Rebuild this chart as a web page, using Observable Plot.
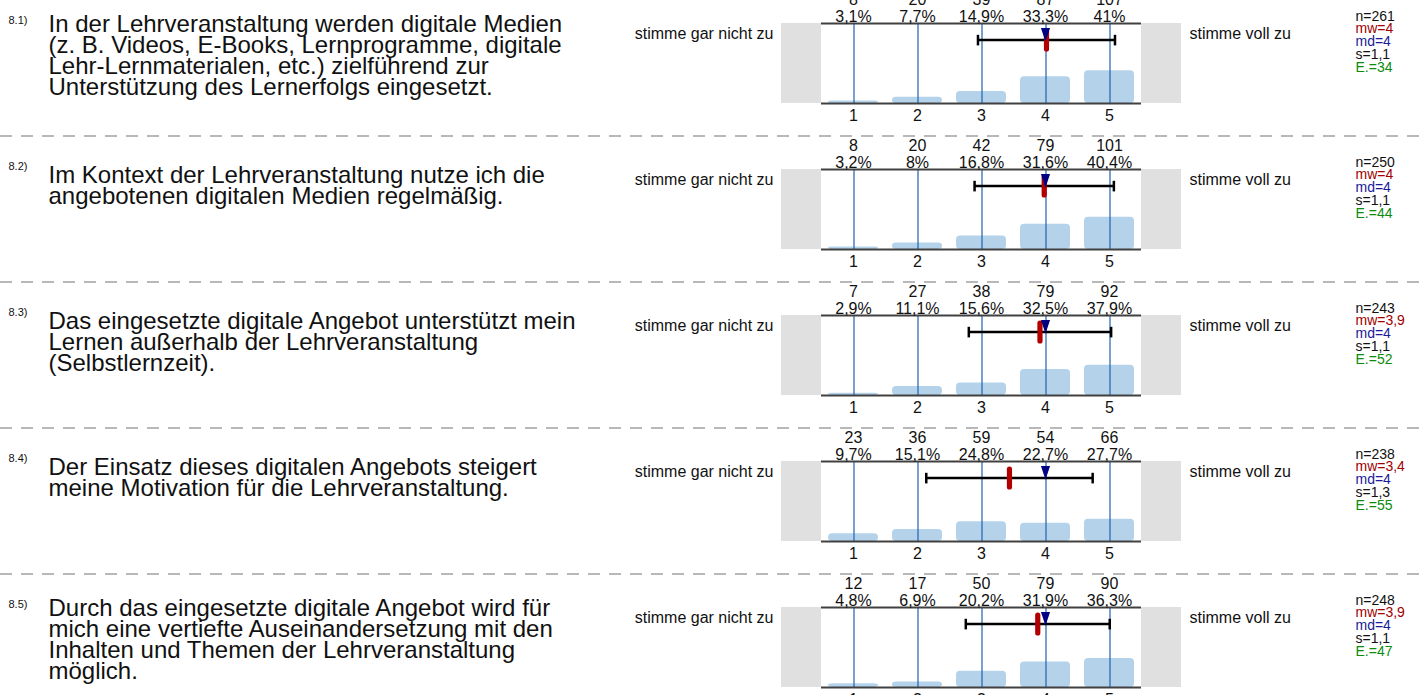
<!DOCTYPE html>
<html><head><meta charset="utf-8">
<script src="https://cdn.jsdelivr.net/npm/d3@7"></script>
<script src="https://cdn.jsdelivr.net/npm/@observablehq/plot@0.6"></script>
<style>html,body{margin:0;padding:0;background:#fff;overflow:hidden}</style>
</head><body><div id="chart"></div>
<script>
// ---- data ----
const ids = ["8.1)", "8.2)", "8.3)", "8.4)", "8.5)"];
const questions = [
  "In der Lehrveranstaltung werden digitale Medien\n(z. B. Videos, E-Books, Lernprogramme, digitale\nLehr-Lernmaterialen, etc.) zielführend zur\nUnterstützung des Lernerfolgs eingesetzt.",
  "Im Kontext der Lehrveranstaltung nutze ich die\nangebotenen digitalen Medien regelmäßig.",
  "Das eingesetzte digitale Angebot unterstützt mein\nLernen außerhalb der Lehrveranstaltung\n(Selbstlernzeit).",
  "Der Einsatz dieses digitalen Angebots steigert\nmeine Motivation für die Lehrveranstaltung.",
  "Durch das eingesetzte digitale Angebot wird für\nmich eine vertiefte Auseinandersetzung mit den\nInhalten und Themen der Lehrveranstaltung\nmöglich."
];
const scaleValues = [1, 2, 3, 4, 5];
const tickLabels = ["1", "2", "3", "4", "5"];
const leftLabel = "stimme gar nicht zu";
const rightLabel = "stimme voll zu";
const counts = [
  [8, 20, 39, 87, 107],
  [8, 20, 42, 79, 101],
  [7, 27, 38, 79, 92],
  [23, 36, 59, 54, 66],
  [12, 17, 50, 79, 90]
];
const percents = [
  [3.1, 7.7, 14.9, 33.3, 41],
  [3.2, 8, 16.8, 31.6, 40.4],
  [2.9, 11.1, 15.6, 32.5, 37.9],
  [9.7, 15.1, 24.8, 22.7, 27.7],
  [4.8, 6.9, 20.2, 31.9, 36.3]
];
const nValues = [261, 250, 243, 238, 248];
const mwLabels = ["4", "4", "3,9", "3,4", "3,9"];
const mdValues = [4, 4, 4, 4, 4];
const sLabels = ["1,1", "1,1", "1,1", "1,3", "1,1"];
const eValues = [34, 44, 52, 55, 47];

// ---- derived tables ----
const rows = ids.map((id, i) => {
  const c = counts[i];
  const n = d3.sum(c);
  const mean = d3.sum(c, (k, j) => k * scaleValues[j]) / n;
  const ss = d3.sum(c, (k, j) => k * (scaleValues[j] - mean) ** 2);
  const sd = Math.sqrt(ss / (n - 1));
  return {id, question: questions[i], lines: questions[i].split("\n").length, n: nValues[i], mean, sd,
    md: mdValues[i], mw: mwLabels[i], s: sLabels[i], e: eValues[i]};
});
const fmtPct = p => String(p).replace(".", ",") + "%";
const cells = ids.flatMap((id, i) => scaleValues.map((v, j) => ({
  id, v, count: counts[i][j], pct: percents[i][j], pctLabel: fmtPct(percents[i][j]), tick: tickLabels[j]
})));
const boxLines = ids.flatMap(id => [{id, y: 0}, {id, y: 100}]);
const errEnds = rows.flatMap(r => [{id: r.id, x: r.mean - r.sd}, {id: r.id, x: r.mean + r.sd}]);

// ---- layout / style ----
const W = 1420, H = 695;
const L = 821, R = 279;
const FONT = "'Liberation Sans', Arial, Helvetica, sans-serif";

const capSym = {draw(ctx, size) { const r = Math.sqrt(size / Math.PI); ctx.moveTo(0, -r); ctx.lineTo(0, r); }};
const meanSym = {draw(ctx, size) {
  const h = Math.sqrt(size / Math.PI), w = 2.6;
  ctx.moveTo(-w, -h + w); ctx.arc(0, -h + w, w, Math.PI, 0); ctx.lineTo(w, h - w);
  ctx.arc(0, h - w, w, 0, Math.PI); ctx.closePath();
}};
const triSym = {draw(ctx, size) {
  const r = Math.sqrt(size / Math.PI), w = r * 0.66;
  ctx.moveTo(-w, -r); ctx.lineTo(w, -r); ctx.lineTo(0, r); ctx.closePath();
}};

const statLines = [
  {key: r => "n=" + r.n, fill: "#111"},
  {key: r => "mw=" + r.mw, fill: "#a00000"},
  {key: r => "md=" + r.md, fill: "#1a1a9a"},
  {key: r => "s=" + r.s, fill: "#111"},
  {key: r => "E.=" + r.e, fill: "#0b8c0b"}
];

const questionText = (filter, dy) => Plot.text(rows, {filter, fy: "id", frameAnchor: "left", dx: 48 - L, y: 100,
  dy, text: "question", textAnchor: "start", lineAnchor: "top", fontSize: 24, lineHeight: 21 / 24});

const chart = Plot.plot({
  width: W, height: H,
  marginLeft: L, marginRight: R, marginTop: 23, marginBottom: 4.8,
  style: {fontFamily: FONT, fontSize: "15px", background: "white", color: "#111"},
  x: {domain: [0.5, 5.5], axis: null},
  y: {domain: [0, 100], axis: null},
  fy: {domain: ids, axis: null, paddingInner: 0.455, paddingOuter: 0, align: 0},
  marks: [
    Plot.ruleY(rows, {fy: "id", y: 0, dy: 32.5, insetLeft: -L, insetRight: -R,
      stroke: "#b8b8b8", strokeWidth: 2, strokeDasharray: "12,9"}),
    Plot.rect(rows, {fy: "id", x1: 0.5, x2: 0.5, y1: 0, y2: 100, insetLeft: -40, fill: "#e0e0e0"}),
    Plot.rect(rows, {fy: "id", x1: 5.5, x2: 5.5, y1: 0, y2: 100, insetRight: -40, fill: "#e0e0e0"}),
    Plot.rect(cells, {fy: "id", x1: d => d.v - 0.5, x2: d => d.v + 0.5, y1: 0, y2: "pct",
      insetLeft: 7, insetRight: 7, rx: 4, fill: "#b4d3ea"}),
    Plot.ruleX(cells, {fy: "id", x: "v", y1: 0, y2: 100, dx: 0.5, stroke: "#1f62b0", strokeWidth: 1.2}),
    Plot.ruleY(boxLines, {fy: "id", y: "y", stroke: "#404040", strokeWidth: 2}),
    // error bar
    Plot.ruleY(rows, {fy: "id", x1: d => d.mean - d.sd, x2: d => d.mean + d.sd, y: 100, dy: 16.6,
      stroke: "#000", strokeWidth: 2.5}),
    Plot.dot(errEnds, {fy: "id", x: "x", y: 100, dy: 16.6, symbol: capSym, r: 5.3,
      stroke: "#000", strokeWidth: 2.5, fill: "none"}),
    Plot.dot(rows, {fy: "id", x: "mean", y: 100, dy: 16.6, symbol: meanSym, r: 11.5,
      fill: "#b20000", stroke: "none"}),
    Plot.dot(rows, {fy: "id", x: "md", y: 100, dy: 11.4, symbol: triSym, r: 6.9,
      fill: "#000080", stroke: "none"}),
    // counts & percentages
    Plot.text(cells, {fy: "id", x: "v", y: 100, dy: -2, text: d => d.count + "\n" + d.pctLabel,
      lineAnchor: "bottom", lineHeight: 16.7 / 16, fontSize: 16}),
    // tick labels
    Plot.text(cells, {fy: "id", x: "v", y: 0, dy: 17, text: "tick", lineAnchor: "bottom", fontSize: 16}),
    // side labels
    Plot.text(rows, {fy: "id", frameAnchor: "left", dx: -48, y: 100, dy: 15.6, text: () => leftLabel,
      textAnchor: "end", lineAnchor: "bottom", fontSize: 16}),
    Plot.text(rows, {fy: "id", frameAnchor: "right", dx: 48, y: 100, dy: 15.6, text: () => rightLabel,
      textAnchor: "start", lineAnchor: "bottom", fontSize: 16}),
    // question id and text
    Plot.text(rows, {fy: "id", frameAnchor: "left", dx: 8 - L, y: 100, dy: 0, text: "id",
      textAnchor: "start", lineAnchor: "bottom", fontSize: 11}),
    questionText(d => d.lines >= 4, -6.4),
    questionText(d => d.lines < 4, -1.9),
    // stats
    ...statLines.map((s, k) => Plot.text(rows, {fy: "id", frameAnchor: "right", dx: 1355 - (W - R), y: 100,
      dy: -3 + k * 12.9, text: s.key, fill: s.fill, textAnchor: "start", lineAnchor: "bottom", fontSize: 14}))
  ]
});
document.getElementById("chart").appendChild(chart);
</script>
</body></html>
